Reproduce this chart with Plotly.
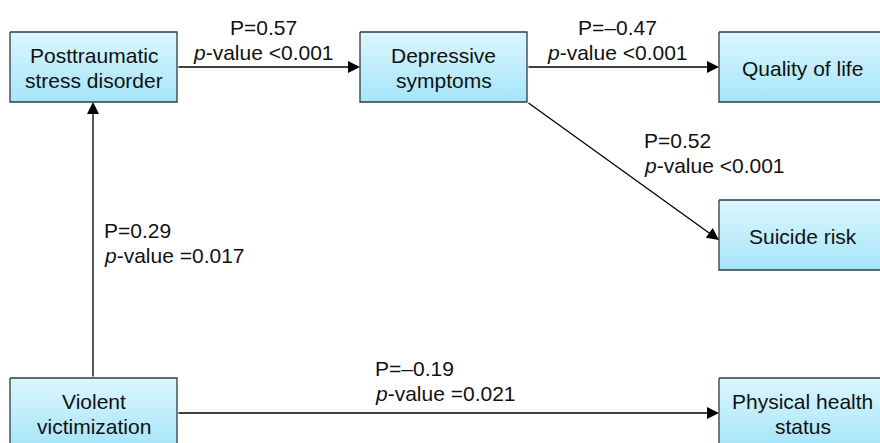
import plotly.graph_objects as go

# ---- data ----
node_names = ["Posttraumatic<br>stress disorder", "Depressive<br>symptoms", "Quality of life",
              "Suicide risk", "Violent<br>victimization", "Physical health<br>status"]
edge_from = [0, 1, 1, 4, 4]
edge_to = [1, 2, 3, 0, 5]
path_coef = [0.57, -0.47, 0.52, 0.29, -0.19]
p_values = ["<0.001", "<0.001", "<0.001", "=0.017", "=0.021"]

# ---- layout (pixel-like diagram coordinates) ----
W, H = 880, 443
box_xy = [(10, 32, 177, 102), (360, 32, 527, 102), (719, 32, 886, 102),
          (719, 200, 886, 270), (10, 378, 177, 448), (719, 378, 886, 448)]
edge_pts = [((177, 67), (360, 67)), ((527, 67), (719, 67)), ((527, 102), (719, 240)),
            ((93, 378), (93, 102)), ((177, 413), (719, 413))]
label_pos = [(263, 40, "center"), (617, 40, "center"), (642, 153, "left"),
             (102, 243, "left"), (373, 381, "left")]
LINE_GAP = 25

FONT = "Arial, 'Liberation Sans', sans-serif"
FS = 21

fig = go.Figure()
for (x0, y0, x1, y1) in box_xy:
    fig.add_trace(go.Scatter(
        x=[x0, x1, x1, x0, x0], y=[y0, y0, y1, y1, y0], mode="lines",
        fill="toself", line=dict(color="#2f3b40", width=1.3),
        fillgradient=dict(type="vertical", colorscale=[[0, "#dcf6fe"], [1, "#a5e5fa"]],
                          start=y0, stop=y1),
        hoverinfo="skip", showlegend=False))


def add_lines(lines, x, cy, anchor):
    n = len(lines)
    for i, ln in enumerate(lines):
        y = cy + (i - (n - 1) / 2) * LINE_GAP
        fig.add_annotation(x=x, y=y, text=ln, showarrow=False, xanchor=anchor, yanchor="middle",
                           font=dict(family=FONT, size=FS, color="#111111"))


for name, (x0, y0, x1, y1) in zip(node_names, box_xy):
    cx = (x0 + x1) / 2
    cy = (y0 + min(y1, 448)) / 2
    add_lines(name.split("<br>"), cx, cy + 1, "center")

for (tail, head) in edge_pts:
    fig.add_annotation(x=head[0], y=head[1], ax=tail[0], ay=tail[1], axref="x", ayref="y",
                       xref="x", yref="y", text="", showarrow=True, arrowhead=2,
                       arrowsize=1.85, arrowwidth=1.3, arrowcolor="#000000", standoff=0)

for c, p, (lx, ly, anc) in zip(path_coef, p_values, label_pos):
    sign = "–" if c < 0 else ""
    add_lines([f"P={sign}{abs(c):.2f}", f"<i>p</i>-value {p}"], lx, ly, anc)

fig.update_xaxes(range=[0, W], visible=False, fixedrange=True)
fig.update_yaxes(range=[H, 0], visible=False, fixedrange=True)
fig.update_layout(width=W, height=H, margin=dict(l=0, r=0, t=0, b=0),
                  plot_bgcolor="white", paper_bgcolor="white")
fig.write_html("out.html", config={"displayModeBar": False},
               post_script="document.body.style.margin='0';document.body.style.overflow='hidden';")
